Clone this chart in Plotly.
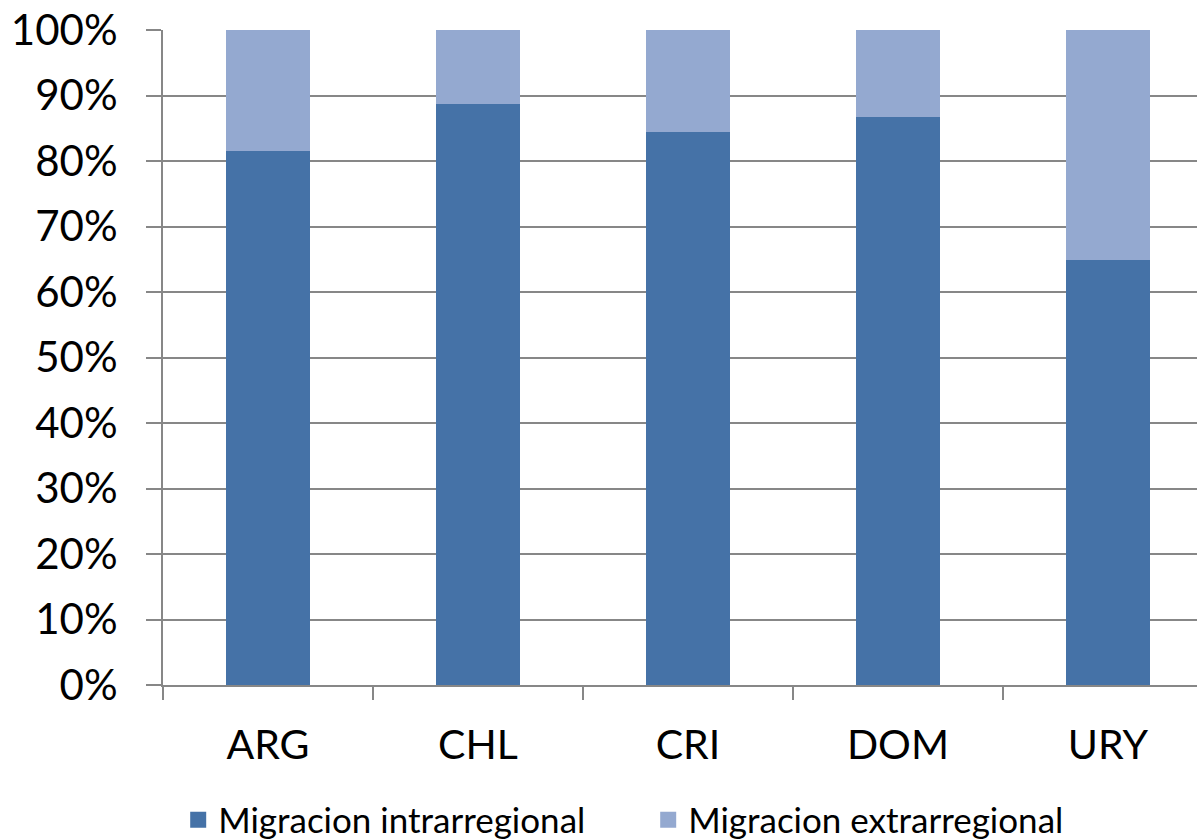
import plotly.graph_objects as go

categories = ["ARG", "CHL", "CRI", "DOM", "URY"]
intra = [81.5, 88.8, 84.4, 86.7, 64.9]
extra = [100 - v for v in intra]
series_names = ["Migracion intrarregional", "Migracion extrarregional"]
colors = ["#4572A7", "#94A9D0"]
ytick_vals = [i / 10 for i in range(11)]
ytick_text = [f"{i * 10}%" for i in range(11)]

FONT = "Lato"
GRID = "#878787"

fig = go.Figure()
for name, vals, col in zip(series_names, [intra, extra], colors):
    fig.add_trace(go.Bar(
        x=categories, y=[v / 100 for v in vals], name=name,
        marker=dict(color=col, line=dict(width=0)), width=0.4,
        showlegend=False,
    ))
# legend entries with larger square swatches
for name, col in zip(series_names, colors):
    fig.add_trace(go.Scatter(
        x=[categories[0]], y=[None], name=name, mode="markers",
        marker=dict(symbol="square", size=16, color=col), showlegend=True,
    ))

fig.update_layout(
    barmode="stack",
    width=1197, height=839,
    margin=dict(l=163, r=0, t=30, b=154, autoexpand=False),
    paper_bgcolor="white", plot_bgcolor="white",
    font=dict(family=FONT, color="black"),
    showlegend=True,
    legend=dict(orientation="h", x=0.0147, xanchor="left",
                yref="container", y=0.0226, yanchor="middle",
                font=dict(size=35, family=FONT), traceorder="normal",
                entrywidth=425, entrywidthmode="pixels", itemwidth=30),
    xaxis=dict(
        range=[-0.5, 4.424], type="category", automargin=False,
        showgrid=False, showline=True, linecolor=GRID, linewidth=2,
        ticks="outside", tickson="boundaries", ticklen=13, tickwidth=2, tickcolor=GRID,
        tickfont=dict(size=41, family=FONT), ticklabelstandoff=23,
    ),
    yaxis=dict(
        range=[0, 1.0005], tickmode="array",
        tickvals=ytick_vals, ticktext=ytick_text,
        automargin=False, ticklabeloverflow="allow",
        showgrid=True, gridcolor=GRID, gridwidth=2,
        showline=True, linecolor=GRID, linewidth=2,
        ticks="outside", ticklen=15, tickwidth=2, tickcolor=GRID,
        tickfont=dict(size=42, family=FONT), ticklabelstandoff=20,
        zeroline=False,
    ),
)

fig.write_html(
    "out.html",
    config={"displayModeBar": False},
    post_script="document.body.style.margin='0';document.body.style.overflow='hidden';",
)
